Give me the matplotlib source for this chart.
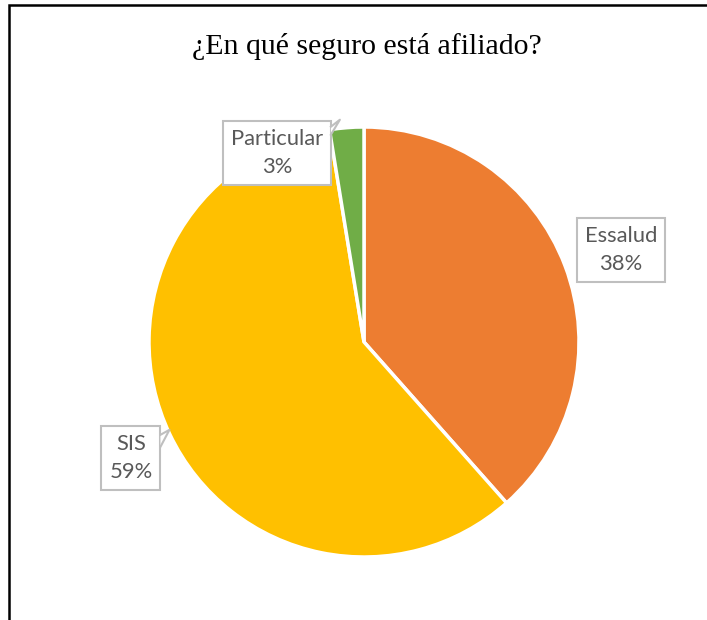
import matplotlib
matplotlib.use("Agg")
import matplotlib.pyplot as plt
import matplotlib.patches as mpatches
from matplotlib.lines import Line2D

# ── Data ──────────────────────────────────────────────────────────────────────
labels = ["Essalud", "SIS", "Particular"]
counts = [15, 23, 1]
colors = ["#ED7D31", "#FFC000", "#70AD47"]
title = "¿En qué seguro está afiliado?"

# label box centres (pie data units) and tail setup (side offsets in px)
label_pos = [(1.195, 0.428), (-1.084, -0.54), (-0.405, 0.879)]
tails = [None, (9, 21, 9, 1), (6, 14, 9, 3)]

W, H, DPI = 707, 620, 100
TEXT = "#595959"
EDGE = "#BFBFBF"

fig = plt.figure(figsize=(W / DPI, H / DPI), dpi=DPI)
fig.patch.set_facecolor("white")

# outer chart frame (only top and left edges fall inside the picture)
frame = mpatches.Rectangle((9 / W, -0.1), 1.2, (H - 5) / H + 0.1,
                           transform=fig.transFigure, fill=False,
                           edgecolor="black", linewidth=1.8)
fig.add_artist(frame)

fig.text(367 / W, 1 - 46 / H, title, ha="center", va="center",
         fontsize=21.5, family="Liberation Serif", color="black")

# pie axes: centre (364, 342) px, radius 215 px
cx, cy, r = 364, 342, 215
ax = fig.add_axes([(cx - r) / W, (H - cy - r) / H, 2 * r / W, 2 * r / H])
wedges, _ = ax.pie(counts, colors=colors, startangle=90, counterclock=False,
                   wedgeprops=dict(edgecolor="white", linewidth=2.5))
ax.set_xlim(-1, 1)
ax.set_ylim(-1, 1)
ax.set_aspect("equal")
ax.axis("off")

total = sum(counts)
texts = []
for name, n, (x, y) in zip(labels, counts, label_pos):
    t = ax.text(x, y, f"{name}\n{100 * n / total:.0f}%", ha="center", va="center",
                fontsize=15.8, family="Lato", color=TEXT, linespacing=1.55,
                clip_on=False,
                bbox=dict(boxstyle="square,pad=0.36", facecolor="white",
                          edgecolor=EDGE, linewidth=1.5))
    texts.append(t)

# callout tails
fig.canvas.draw()
rend = fig.canvas.get_renderer()
for t, tail in zip(texts, tails):
    if tail is None:
        continue
    d0, d1, dx, dy = tail
    bb = t.get_bbox_patch().get_window_extent(rend)
    xr, yt = bb.x1, bb.y1
    p0 = (xr, yt - d0)
    p1 = (xr, yt - d1)
    tip = (xr + dx, yt - d0 + dy + 4)
    inv = fig.transFigure.inverted()
    f0, f1, ft = inv.transform([p0, p1, tip])
    fig.add_artist(mpatches.Polygon([f0, ft, f1], closed=True, facecolor="white",
                                    edgecolor="none", transform=fig.transFigure,
                                    zorder=5))
    fig.add_artist(Line2D([f0[0], ft[0], f1[0]], [f0[1], ft[1], f1[1]],
                          color=EDGE, linewidth=1.5, transform=fig.transFigure,
                          zorder=6))

fig.savefig("out.png", dpi=DPI, facecolor="white")
